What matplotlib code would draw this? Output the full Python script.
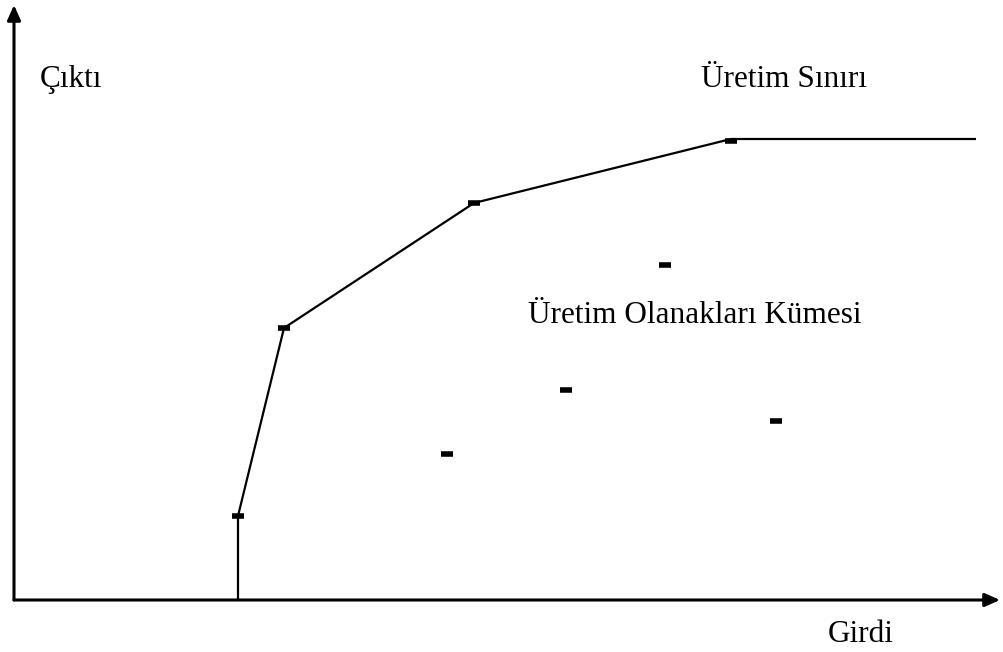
import matplotlib
matplotlib.use('Agg')
import matplotlib.pyplot as plt

# frontier (girdi, cikti) in arbitrary units
frontier_x = [2.24, 2.24, 2.70, 4.60, 7.17, 9.62]
frontier_y = [0.00, 0.84, 2.72, 3.97, 4.61, 4.61]
# observed firms on the frontier
eff_x = [2.24, 2.70, 4.60, 7.17]
eff_y = [0.84, 2.72, 3.97, 4.59]
# firms inside the production set
in_x = [6.51, 5.52, 4.33, 7.62]
in_y = [3.35, 2.10, 1.46, 1.79]

plt.rcParams['font.family'] = ['Liberation Serif', 'DejaVu Serif']

fig = plt.figure(figsize=(10.04, 6.52), dpi=100)
ax = fig.add_axes([14/1004, 52/652, 986/1004, 595/652])
ax.set_xlim(0, 9.86)
ax.set_ylim(0, 5.95)
ax.axis('off')

# axes with arrows
arrow = dict(arrowstyle='-|>,head_length=0.9,head_width=0.4', color='black',
             lw=2.2, shrinkA=0, shrinkB=0)
ax.annotate('', xy=(0, 1), xytext=(0, 0), xycoords='axes fraction', arrowprops=arrow)
ax.annotate('', xy=(1, 0), xytext=(0, 0), xycoords='axes fraction', arrowprops=arrow)

ax.plot(frontier_x, frontier_y, color='black', lw=1.6, solid_capstyle='butt')
ax.plot(eff_x, eff_y, ls='none', marker='_', ms=8, mew=4, color='black')
ax.plot(in_x, in_y, ls='none', marker='_', ms=8, mew=4, color='black')

fs = 22.5
ax.text(0.26, 5.13, 'Çıktı', fontsize=fs, va='baseline', ha='left')
ax.text(6.87, 5.13, 'Üretim Sınırı', fontsize=fs, va='baseline', ha='left')
ax.text(5.14, 2.77, 'Üretim Olanakları Kümesi', fontsize=fs, va='baseline', ha='left')
ax.text(8.14, -0.42, 'Girdi', fontsize=fs, va='baseline', ha='left')

fig.savefig('out.png', dpi=100)
